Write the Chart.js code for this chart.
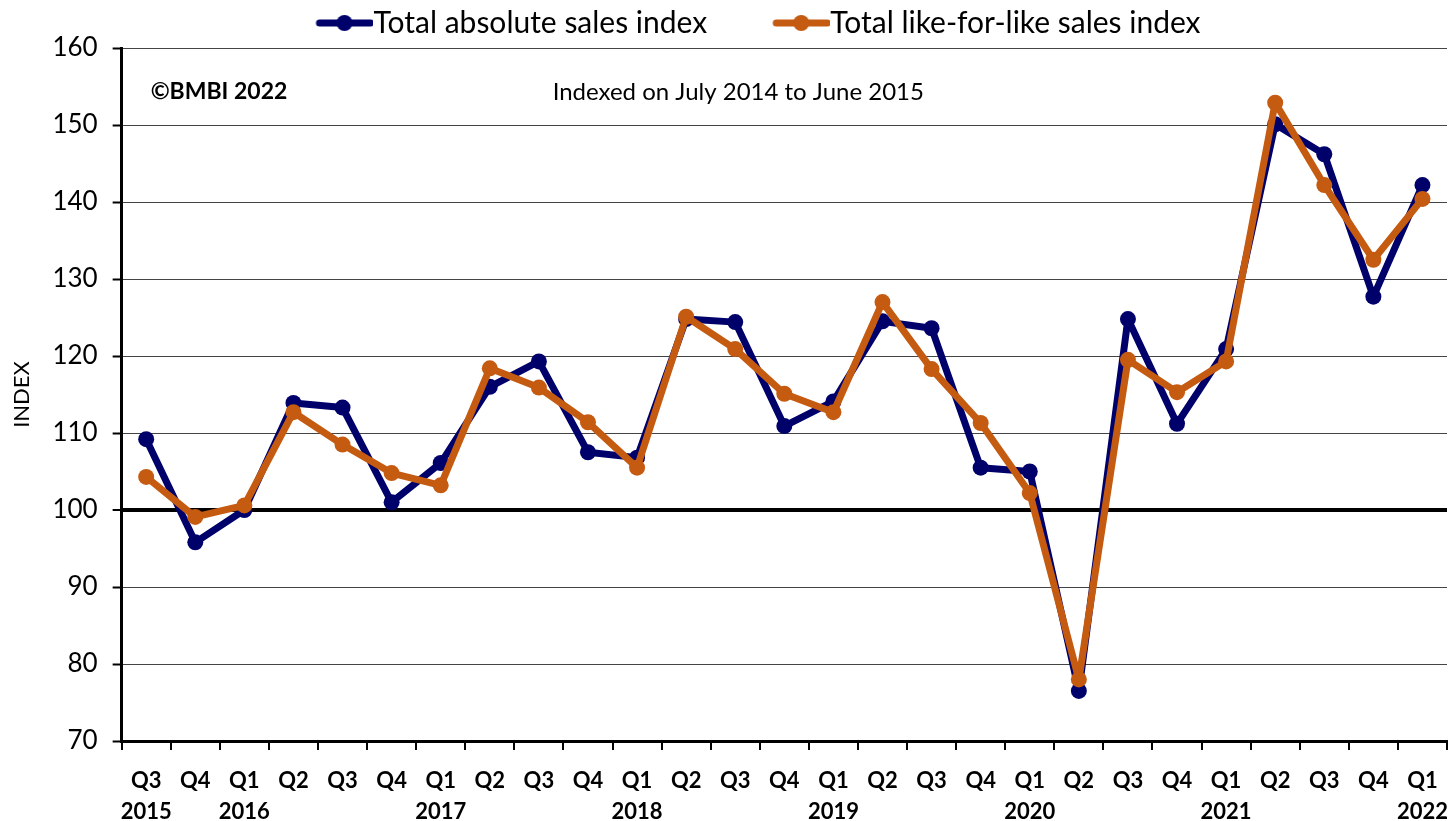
<!DOCTYPE html>
<html>
<head>
<meta charset="utf-8">
<script src="https://cdn.jsdelivr.net/npm/chart.js@4"></script>
<style>
  html, body { margin: 0; padding: 0; background: #fff; overflow: hidden; }
  #wrap { width: 1455px; height: 821px; }
</style>
</head>
<body>
<div id="wrap"><canvas id="salesChart"></canvas></div>
<script>
// 季度标签（两行：季度 / 年份）
const quarters = ['Q3','Q4','Q1','Q2','Q3','Q4','Q1','Q2','Q3','Q4','Q1','Q2','Q3','Q4',
                  'Q1','Q2','Q3','Q4','Q1','Q2','Q3','Q4','Q1','Q2','Q3','Q4','Q1'];
const years = ['2015','','2016','','','','2017','','','','2018','','','',
               '2019','','','','2020','','','','2021','','','','2022'];

const absoluteIndex = [109.2, 95.8, 100.0, 113.9, 113.3, 101.0, 106.1, 116.0, 119.3, 107.5, 106.8, 124.8, 124.4, 110.9,
                       114.1, 124.5, 123.6, 105.5, 105.0, 76.5, 124.8, 111.2, 120.9, 150.1, 146.2, 127.7, 142.2];
const likeForLikeIndex = [104.3, 99.1, 100.6, 112.7, 108.5, 104.8, 103.2, 118.4, 115.9, 111.4, 105.5, 125.1, 120.9, 115.1,
                          112.7, 127.0, 118.3, 111.3, 102.2, 78.0, 119.5, 115.3, 119.3, 152.9, 142.2, 132.5, 140.4];

const navy = '#00006b';
const orange = '#c55a11';
const fontFamily = 'Lato, "Open Sans", sans-serif';

// 图例标记：线段加圆点（左侧留空，拉开两个图例项的距离）
function legendMarker(color) {
    const c = document.createElement('canvas');
    c.width = 130; c.height = 22;
    const g = c.getContext('2d');
    g.strokeStyle = color;
    g.lineWidth = 7;
    g.lineCap = 'round';
    g.beginPath();
    g.moveTo(76, 11); g.lineTo(127, 11);
    g.stroke();
    g.fillStyle = color;
    g.beginPath();
    g.arc(101, 11, 8, 0, Math.PI * 2);
    g.fill();
    return c;
}

// 注释文字
const notePlugin = {
    id: 'notes',
    afterDraw(chart) {
        const { ctx, chartArea, scales } = chart;
        const y = scales.y.getPixelForValue(154.3);
        ctx.save();
        ctx.fillStyle = '#000';
        ctx.textBaseline = 'middle';
        ctx.textAlign = 'left';
        ctx.font = 'bold 23px ' + fontFamily;
        ctx.fillText('©BMBI 2022', chartArea.left + 29, y);
        ctx.font = '24px ' + fontFamily;
        ctx.fillText('Indexed on July 2014 to June 2015', chartArea.left + 431, y);
        ctx.restore();
    }
};

const labels = quarters.map((q, i) => [q, years[i]]);

new Chart(document.getElementById('salesChart'), {
    type: 'line',
    data: {
        labels: labels,
        datasets: [{
            label: 'Total absolute sales index',
            data: absoluteIndex,
            borderColor: navy,
            backgroundColor: navy,
            borderWidth: 7,
            borderJoinStyle: 'round',
            pointRadius: 8,
            pointBackgroundColor: navy,
            pointBorderWidth: 0,
            tension: 0,
            order: 2
        }, {
            label: 'Total like-for-like sales index',
            data: likeForLikeIndex,
            borderColor: orange,
            backgroundColor: orange,
            borderWidth: 7,
            borderJoinStyle: 'round',
            pointRadius: 8,
            pointBackgroundColor: orange,
            pointBorderWidth: 0,
            tension: 0,
            order: 1
        }]
    },
    options: {
        responsive: true,
        maintainAspectRatio: false,
        animation: false,
        layout: { padding: { left: 4, right: 0, top: 0, bottom: 0 } },
        plugins: {
            legend: {
                position: 'top',
                labels: {
                    usePointStyle: true,
                    pointStyleWidth: 100,
                    color: '#000',
                    font: { family: fontFamily, size: 30 },
                    padding: 8,
                    generateLabels(chart) {
                        return chart.data.datasets.map((ds, i) => ({
                            text: ds.label,
                            fontColor: '#000',
                            pointStyle: legendMarker(ds.borderColor),
                            datasetIndex: i,
                            lineWidth: 0,
                            hidden: false
                        }));
                    }
                }
            },
            tooltip: { enabled: false }
        },
        scales: {
            x: {
                offset: true,
                afterFit(scale) {
                    scale.height = 80;
                    scale.paddingLeft = 0;
                    scale.paddingRight = 0;
                },
                border: { color: '#000', width: 3 },
                grid: {
                    offset: true,
                    drawOnChartArea: false,
                    drawTicks: true,
                    tickLength: 9,
                    color: '#000',
                    lineWidth: 2
                },
                ticks: {
                    color: '#000',
                    maxRotation: 0,
                    autoSkip: false,
                    padding: 16,
                    font: { family: fontFamily, size: 22, weight: 'bold', lineHeight: 1.4 }
                }
            },
            y: {
                min: 70,
                max: 160,
                border: { color: '#000', width: 3 },
                grid: {
                    color: ctx => (ctx.tick && ctx.tick.value === 100 ? '#000' : '#444'),
                    lineWidth: ctx => (ctx.tick && ctx.tick.value === 100 ? 4 : 1),
                    tickLength: 9,
                    tickColor: '#000',
                    tickWidth: 2
                },
                ticks: {
                    stepSize: 10,
                    color: '#000',
                    padding: 15,
                    font: { family: fontFamily, size: 26 }
                },
                title: {
                    display: true,
                    text: 'INDEX',
                    color: '#000',
                    padding: { top: 5, bottom: 2 },
                    font: { family: fontFamily, size: 22 }
                }
            }
        }
    },
    plugins: [notePlugin]
});
</script>
</body>
</html>
